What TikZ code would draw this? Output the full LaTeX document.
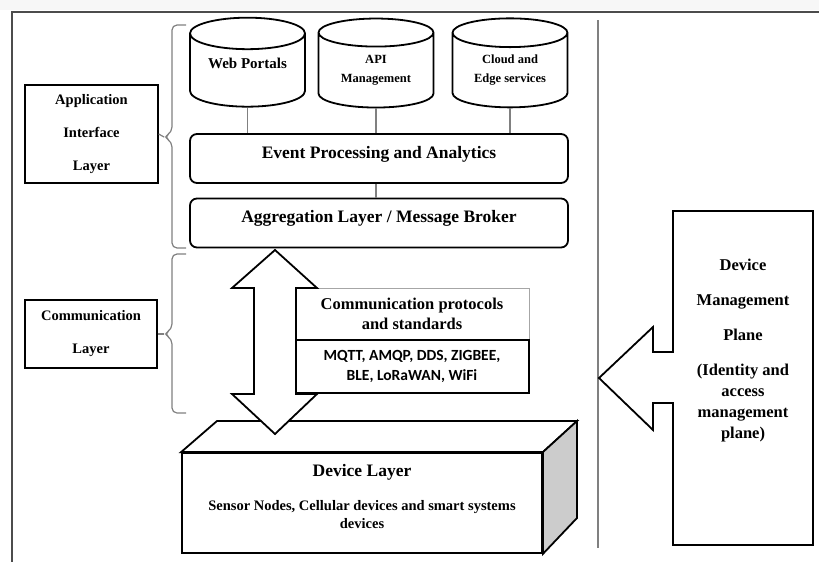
\documentclass[tikz,border=0pt]{standalone}
\usepackage{fontspec}
\setmainfont{Liberation Serif}
\newfontfamily\protofont{Carlito}
\usetikzlibrary{shapes.geometric,positioning}

\begin{document}
\begin{tikzpicture}[x=1pt,y=-1pt]
\tikzset{thk/.style={line width=1.8pt}}
\tikzset{cyl/.style={cylinder, shape border rotate=90, aspect=0.4, draw, thk, fill=white, minimum width=115pt, minimum height=89pt, align=center, inner sep=0pt, font=\fontsize{12.5pt}{19pt}\selectfont\bfseries}}
\tikzset{rbox/.style={draw, thk, rounded corners=7pt, minimum width=378pt, minimum height=49pt, inner sep=0pt, font=\fontsize{17.5pt}{20pt}\selectfont\bfseries}}
\tikzset{layer/.style={draw, line width=1.4pt, align=center, inner sep=0pt, font=\fontsize{14.5pt}{33pt}\selectfont\bfseries}}
\tikzset{link/.style={gray, line width=1.2pt}}
\tikzset{brc/.style={gray, line width=1.2pt, rounded corners=5pt}}

  \useasboundingbox (0,0) rectangle (819,562);
  \fill[gray!6] (0,0) rectangle (819,10);
  \draw[gray!60!black, line width=1.3pt] (12,562) -- (12,12) -- (819,12);
  \draw[link] (598,20) -- (598,548);

  % application side
  \node[cyl, text depth=14pt, font=\fontsize{15pt}{19pt}\selectfont\bfseries] (web) at (247.5,70.5) {Web Portals};
  \node[cyl] (api) at (376,70.5) {API\\Management};
  \node[cyl] (cloud) at (510,70.5) {Cloud and\\Edge services};
  \node[rbox, text depth=12pt] (event) at (379,158.5) {Event Processing and Analytics};
  \node[rbox, text depth=13pt] (agg) at (379,223) {Aggregation Layer / Message Broker};

  \draw[link] (web.south) -- (web.south |- event.north);
  \draw[link] (api.south) -- (api.south |- event.north);
  \draw[link] (cloud.south) -- (cloud.south |- event.north);
  \draw[link] (api.south |- event.south) -- (api.south |- agg.north);

  % layer labels and braces
  \node[layer, minimum width=133pt, minimum height=98pt] (app) at (91.5,134) {Application\\Interface\\Layer};
  \node[layer, minimum width=132pt, minimum height=68pt] (comm) at (91,334) {Communication\\Layer};
  \coordinate (apptip) at (164,137);
  \coordinate (commtip) at (164,334);
  \draw[brc] (186,25) -- (172,25) -- (172,132) -- (apptip) -- (172,142) -- (172,248) -- (186,248);
  \draw[brc] (186,254) -- (172,254) -- (172,329) -- (commtip) -- (172,339) -- (172,413) -- (186,413);
  \draw[link] (app.east) -- (apptip);
  \draw[link] (comm.east) -- (commtip);

  % protocols
  \node[draw=gray!70, line width=0.8pt, minimum width=234pt, minimum height=51pt, inner sep=0pt, align=center, font=\fontsize{16.5pt}{20pt}\selectfont\bfseries] (cps) at (412,313.5) {Communication protocols\\and standards};
  \node[draw, thk, minimum width=234pt, minimum height=53pt, inner sep=0pt, align=center, font=\fontsize{15.5pt}{20pt}\protofont\bfseries, below=0pt of cps] (proto) {MQTT, AMQP, DDS, ZIGBEE,\\BLE, LoRaWAN, WiFi};

  % device layer
  \node[draw, thk, fill=white, minimum width=360pt, minimum height=100pt] (dev) at (362,503) {};
  \draw[thk, fill=white] (dev.north west) -- (217,421) -- (577,421) -- (dev.north east) -- cycle;
  \draw[thk, fill=gray!40] (dev.north east) -- (577,421) -- (577,518) -- (dev.south east) -- cycle;
  \node[anchor=base, font=\fontsize{17.5pt}{20pt}\selectfont\bfseries] (devtitle) at (362,476) {Device Layer};
  \node[anchor=north, inner sep=0pt, align=center, font=\fontsize{14.5pt}{18pt}\selectfont\bfseries] (devtext) at (362,500) {Sensor Nodes, Cellular devices and smart systems\\devices};

  % double arrow between broker and devices
  \draw[thk, fill=white] (275,250) -- (317,288) -- (296,288) -- (296,394) -- (317,394) -- (275,434)
    -- (232,394) -- (254,394) -- (254,288) -- (232,288) -- cycle;

  % device management plane
  \draw[thk] (673,211) -- (813,211) -- (813,545) -- (673,545) -- (673,403) -- (653,403) -- (653,430)
    -- (599,378) -- (653,327) -- (653,352) -- (673,352) -- cycle;
  \node[align=center, font=\fontsize{16.5pt}{21pt}\selectfont\bfseries] (dmp) at (743,351) {Device\\[14pt]Management\\[14pt]Plane\\[14pt](Identity and\\access\\management\\plane)};

\end{tikzpicture}
\end{document}
